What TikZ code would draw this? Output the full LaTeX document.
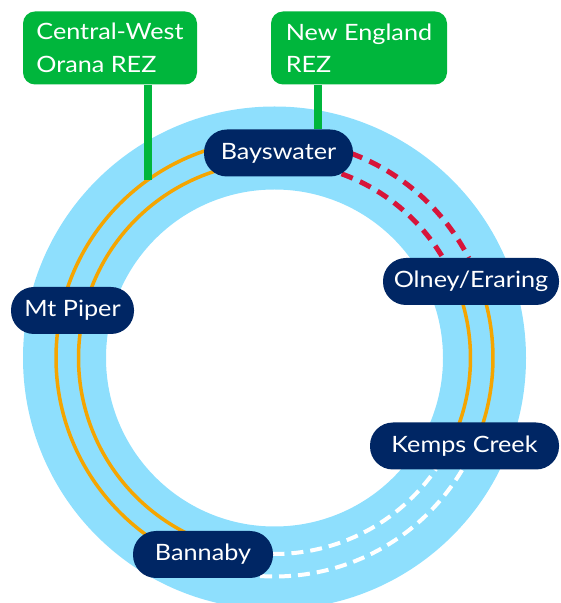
\documentclass[tikz,border=0pt]{standalone}
\usepackage{fontspec}
\setmainfont{Lato}[FakeStretch=1.12]
\usetikzlibrary{backgrounds}
\definecolor{ringblue}{RGB}{142,223,253}
\definecolor{navy}{RGB}{0,38,100}
\definecolor{rezgreen}{RGB}{0,182,60}
\definecolor{lineorange}{RGB}{245,165,0}
\definecolor{linered}{RGB}{215,21,58}
\begin{document}
\begin{tikzpicture}[x=1pt,y=1pt,
  station/.style={fill=navy, text=white, rounded corners=23pt, minimum height=47pt,
    inner sep=0pt, font=\fontsize{22.5}{27}\selectfont},
  rez/.style={fill=rezgreen, text=white, rounded corners=12pt, minimum height=73pt,
    inner sep=0pt, align=left, font=\fontsize{22.5}{32.4}\selectfont},
  orangeline/.style={draw=lineorange, line width=3.5pt},
  reddash/.style={draw=linered, line width=5pt, dash pattern=on 12pt off 8pt},
  whitedash/.style={draw=white, line width=4pt, dash pattern=on 12pt off 7pt},
  rezline/.style={draw=rezgreen, line width=8pt}]
\useasboundingbox (0,0) rectangle (561,603);
\coordinate (C) at (274.5,245);
% nodes
\node[rez, minimum width=174pt] (cwo) at (110,555) {Central-West\\Orana REZ};
\node[rez, minimum width=176pt] (ne) at (359,555) {New England\\REZ};
\node[station, minimum width=149pt] (bays) at (278.5,450) {Bayswater};
\node[station, minimum width=176pt] (olney) at (471,321.5) {Olney/Eraring};
\node[station, minimum width=123pt] (piper) at (72.5,292.5) {Mt Piper};
\node[station, minimum width=189pt] (kemps) at (464.5,157) {Kemps Creek};
\node[station, minimum width=140pt] (bann) at (203,48.5) {Bannaby};
\coordinate (cwofoot) at ([shift={(125.4:218.5)}]C);
\coordinate (nefoot) at (318,0);
\begin{pgfonlayer}{background}
  \fill[ringblue, even odd rule] (C) circle[radius=251.5] (C) circle[radius=168.5];
  % orange: Bayswater - Mt Piper - Bannaby
  \draw[orangeline] ([shift={(88.9:196)}]C) arc[start angle=88.9, end angle=250, radius=196];
  \draw[orangeline] ([shift={(88.9:218.5)}]C) arc[start angle=88.9, end angle=250, radius=218.5];
  % orange: Olney - Kemps Creek
  \draw[orangeline] ([shift={(21.3:196)}]C) arc[start angle=21.3, end angle=-24.8, radius=196];
  \draw[orangeline] ([shift={(21.3:218.5)}]C) arc[start angle=21.3, end angle=-24.8, radius=218.5];
  % red dashed: Bayswater - Olney
  \draw[reddash] ([shift={(70:196)}]C) arc[start angle=70, end angle=30.7, radius=196];
  \draw[reddash] ([shift={(69.5:218.5)}]C) arc[start angle=69.5, end angle=27.2, radius=218.5];
  % white dashed: Bannaby - Kemps Creek
  \draw[whitedash] ([shift={(269.4:196)}]C) arc[start angle=269.4, end angle=325.5, radius=196];
  \draw[whitedash] ([shift={(266.2:218.5)}]C) arc[start angle=266.2, end angle=329.5, radius=218.5];
  % REZ connectors
  \draw[rezline] (cwo.south -| cwofoot) -- (cwofoot);
  \draw[rezline] (ne.south -| nefoot) -- (nefoot |- bays.north);
\end{pgfonlayer}
\end{tikzpicture}
\end{document}
